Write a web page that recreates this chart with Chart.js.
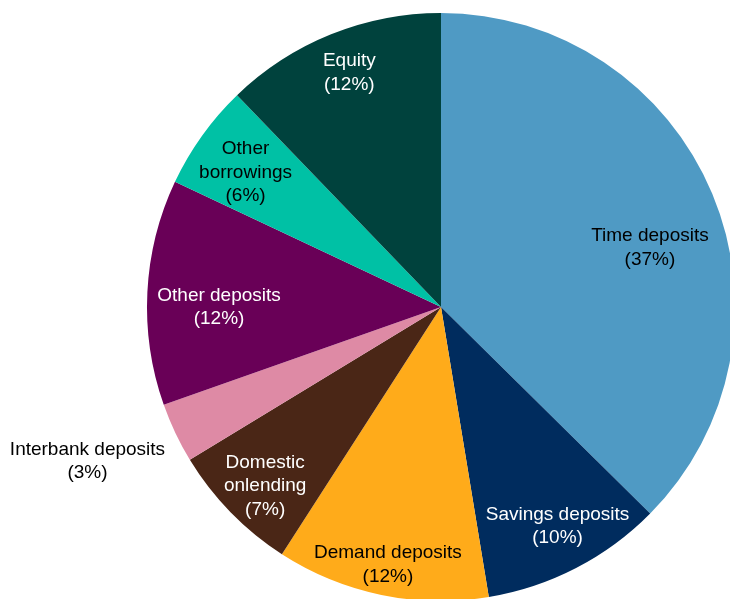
<!DOCTYPE html>
<html>
<head>
<meta charset="utf-8">
<script src="https://cdn.jsdelivr.net/npm/chart.js@4"></script>
<style>
  html, body { margin: 0; padding: 0; background: #fff; overflow: hidden; }
</style>
</head>
<body>
<canvas id="myChart" width="736" height="602"></canvas>
<script>
// funding sources, clockwise from 12 o'clock
var labels = [
  ['Time deposits'],
  ['Savings deposits'],
  ['Demand deposits'],
  ['Domestic', 'onlending'],
  ['Interbank deposits'],
  ['Other deposits'],
  ['Other', 'borrowings'],
  ['Equity']
];
var shares = [37.4, 10.0, 11.7, 7.2, 3.3, 12.4, 5.8, 12.2];
var shownPct = [37, 10, 12, 7, 3, 12, 6, 12];

var colors = ['#4f9ac4', '#002c5e', '#ffab1a', '#4a2616', '#de8aa5', '#690057', '#00c1a5', '#00423d'];
var textColors = ['#000', '#fff', '#000', '#fff', '#000', '#fff', '#000', '#fff'];
// where each label sits: fraction of radius, angle nudge in degrees
var labelRadius = [0.74, 0.84, 0.89, 0.85, 1.31, 0.755, 0.81, 0.86];
var labelNudge = [6.5, -0.8, 0, -1, 2, -2.5, -0.8, 0.7];

var sliceLabels = {
  id: 'sliceLabels',
  afterDatasetsDraw: function(chart) {
    var c = chart.ctx;
    var arcs = chart.getDatasetMeta(0).data;
    c.save();
    c.font = '19px "Liberation Sans", Arial, sans-serif';
    c.textAlign = 'center';
    c.textBaseline = 'middle';
    var lh = 23.5;
    arcs.forEach(function(arc, i) {
      var p = arc.getProps(['x', 'y', 'startAngle', 'endAngle', 'outerRadius'], true);
      var a = (p.startAngle + p.endAngle) / 2 + labelNudge[i] * Math.PI / 180;
      var r = p.outerRadius * labelRadius[i];
      var cx = p.x + Math.cos(a) * r;
      var cy = p.y + Math.sin(a) * r + 1.5;
      var lines = labels[i].concat(['(' + shownPct[i] + '%)']);
      var y0 = cy - (lines.length - 1) * lh / 2;
      c.fillStyle = textColors[i];
      lines.forEach(function(t, k) {
        c.fillText(t, cx, y0 + k * lh);
      });
    });
    c.restore();
  }
};

var ctx = document.getElementById('myChart').getContext('2d');
var myChart = new Chart(ctx, {
  type: 'pie',
  data: {
    labels: labels.map(function(l) { return l.join(' '); }),
    datasets: [{
      data: shares,
      backgroundColor: colors,
      borderWidth: 0
    }]
  },
  options: {
    responsive: false,
    animation: false,
    layout: { padding: { left: 147, right: 1, top: 13, bottom: 1 } },
    plugins: {
      legend: { display: false },
      tooltip: { enabled: false }
    }
  },
  plugins: [sliceLabels]
});
</script>
</body>
</html>
